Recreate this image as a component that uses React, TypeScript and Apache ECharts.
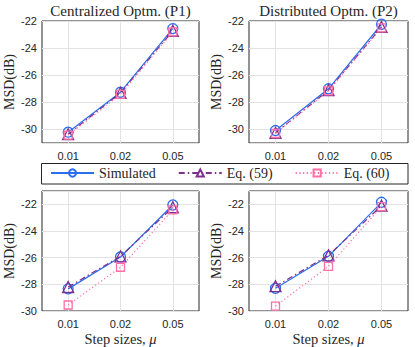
import React, { useEffect, useRef } from "react";
import * as echarts from "echarts";

// ---- data ----
const categories = ["0.01", "0.02", "0.05"];
const seriesNames = ["Simulated", "Eq. (59)", "Eq. (60)"];
const titles = ["Centralized Optm. (P1)", "Distributed Optm. (P2)"];
const yTicks = [-30, -28, -26, -24, -22];

const p1Sim = [-30.2, -27.25, -22.56];
const p1Eq59 = [-30.35, -27.3, -22.72];
const p1Eq60 = [-30.42, -27.42, -22.8];
const p2Sim = [-30.08, -27.0, -22.24];
const p2Eq59 = [-30.25, -27.1, -22.44];
const p2Eq60 = [-30.3, -27.15, -22.5];
const b1Sim = [-28.34, -25.95, -22.05];
const b1Eq59 = [-28.2, -25.9, -22.22];
const b1Eq60 = [-29.55, -26.72, -22.42];
const b2Sim = [-28.3, -25.9, -21.85];
const b2Eq59 = [-28.14, -25.83, -22.1];
const b2Eq60 = [-29.63, -26.65, -22.17];

const panels = [
  { sets: [p1Sim, p1Eq59, p1Eq60], yMin: -31, yMax: -22 },
  { sets: [p2Sim, p2Eq59, p2Eq60], yMin: -31, yMax: -22 },
  { sets: [b1Sim, b1Eq59, b1Eq60], yMin: -30, yMax: -21 },
  { sets: [b2Sim, b2Eq59, b2Eq60], yMin: -30, yMax: -21 },
];

const BLUE = "#2a6ff0";
const PURPLE = "#7e2f8e";
const PINK = "#ff6fa8";
const SERIF = "'Liberation Serif', 'Times New Roman', serif";
const SANS = "'Liberation Sans', Arial, sans-serif";
const DARK = "#262626";

// padded slots so that categories sit at odd indices
const xSlots: string[] = [];
categories.forEach((c, i) => {
  xSlots.push(" ".repeat(i + 1));
  xSlots.push(c);
});
xSlots.push(" ".repeat(categories.length + 1));

const styles = [
  { color: BLUE, symbol: "circle", size: 10, dash: "solid" as any },
  { color: PURPLE, symbol: "triangle", size: 11, dash: [6, 3, 1.5, 3] as any },
  { color: PINK, symbol: "rect", size: 8, dash: [1.2, 2.5] as any },
];

export default function App() {
  const ref = useRef<HTMLDivElement>(null);
  useEffect(() => {
    if (!ref.current) return;
    const chart = echarts.init(ref.current, undefined, { renderer: "svg" });
    const grids = [
      { left: 42, top: 21, width: 157, height: 122 },
      { left: 249, top: 21, width: 159, height: 122 },
      { left: 42, top: 191, width: 157, height: 121 },
      { left: 249, top: 191, width: 159, height: 121 },
    ].map((g) => ({
      ...g,
      show: true,
      borderColor: DARK,
      borderWidth: 1,
      backgroundColor: "#fff",
    }));

    const xAxis = grids.map((_, i) => ({
      type: "category",
      gridIndex: i,
      data: xSlots,
      boundaryGap: false,
      axisLine: { show: false },
      axisTick: { show: false },
      axisLabel: {
        interval: (idx: number) => idx % 2 === 1,
        margin: 7,
        fontFamily: SANS,
        fontSize: 11,
        color: DARK,
      },
      splitLine: {
        show: true,
        interval: (idx: number) => idx % 2 === 1,
        lineStyle: { color: "#e3e3e3", width: 1 },
      },
      name: i >= 2 ? "Step sizes, {i|μ}" : "",
      nameLocation: "middle",
      nameGap: 20,
      nameTextStyle: {
        fontFamily: SERIF,
        fontSize: 14.5,
        color: DARK,
        verticalAlign: "top",
        rich: { i: { fontFamily: SERIF, fontSize: 14.5, fontStyle: "italic", color: DARK } },
      },
    }));

    const yAxis = panels.map((p, i) => ({
      type: "value",
      gridIndex: i,
      min: p.yMin,
      max: p.yMax,
      minInterval: 2,
      maxInterval: 2,
      axisLine: { show: false },
      axisTick: { show: false },
      axisLabel: {
        margin: 5,
        fontFamily: SANS,
        fontSize: 11,
        color: DARK,
        formatter: (v: number) => (yTicks.includes(v) ? String(v) : ""),
      },
      splitLine: { show: true, lineStyle: { color: "#e3e3e3", width: 1 } },
      name: "MSD(dB)",
      nameLocation: "middle",
      nameGap: 26,
      nameTextStyle: { fontFamily: SERIF, fontSize: 14, color: DARK },
    }));

    const series: any[] = [];
    panels.forEach((p, gi) => {
      p.sets.forEach((vals, si) => {
        const st = styles[si];
        series.push({
          type: "line",
          name: seriesNames[si],
          xAxisIndex: gi,
          yAxisIndex: gi,
          data: vals.map((v, k) => [2 * k + 1, v]),
          symbol: st.symbol,
          symbolSize: st.size,
          showAllSymbol: true,
          lineStyle: { color: st.color, width: 1.2, type: st.dash },
          itemStyle: { color: "rgba(255,255,255,0)", borderColor: st.color, borderWidth: 1.3 },
          emphasis: { disabled: true },
          z: 2 + si,
        });
      });
    });

    chart.setOption({
      animation: false,
      backgroundColor: "#fff",
      grid: grids,
      xAxis,
      yAxis,
      series,
      legend: {
        data: seriesNames,
        left: 50,
        top: 166,
        padding: 0,
        itemWidth: 43,
        itemHeight: 9,
        itemGap: 22,
        selectedMode: false,
        textStyle: { fontFamily: SERIF, fontSize: 14, color: DARK },
      },
      graphic: [
        {
          type: "rect",
          shape: { x: 41.5, y: 163.5, width: 366.5, height: 20.5 },
          style: { fill: "none", stroke: DARK, lineWidth: 1 },
          z: 0,
        },
        {
          type: "text",
          x: 120.5,
          y: 3,
          style: {
            text: titles[0],
            textAlign: "center",
            textVerticalAlign: "top",
            fontFamily: SERIF,
            fontSize: 15,
            fill: DARK,
          },
        },
        {
          type: "text",
          x: 328.5,
          y: 3,
          style: {
            text: titles[1],
            textAlign: "center",
            textVerticalAlign: "top",
            fontFamily: SERIF,
            fontSize: 15,
            fill: DARK,
          },
        },
      ],
    });
    return () => chart.dispose();
  }, []);
  return (
    <div
      ref={ref}
      style={{ position: "absolute", left: 0, top: 0, width: 415, height: 347 }}
    />
  );
}
